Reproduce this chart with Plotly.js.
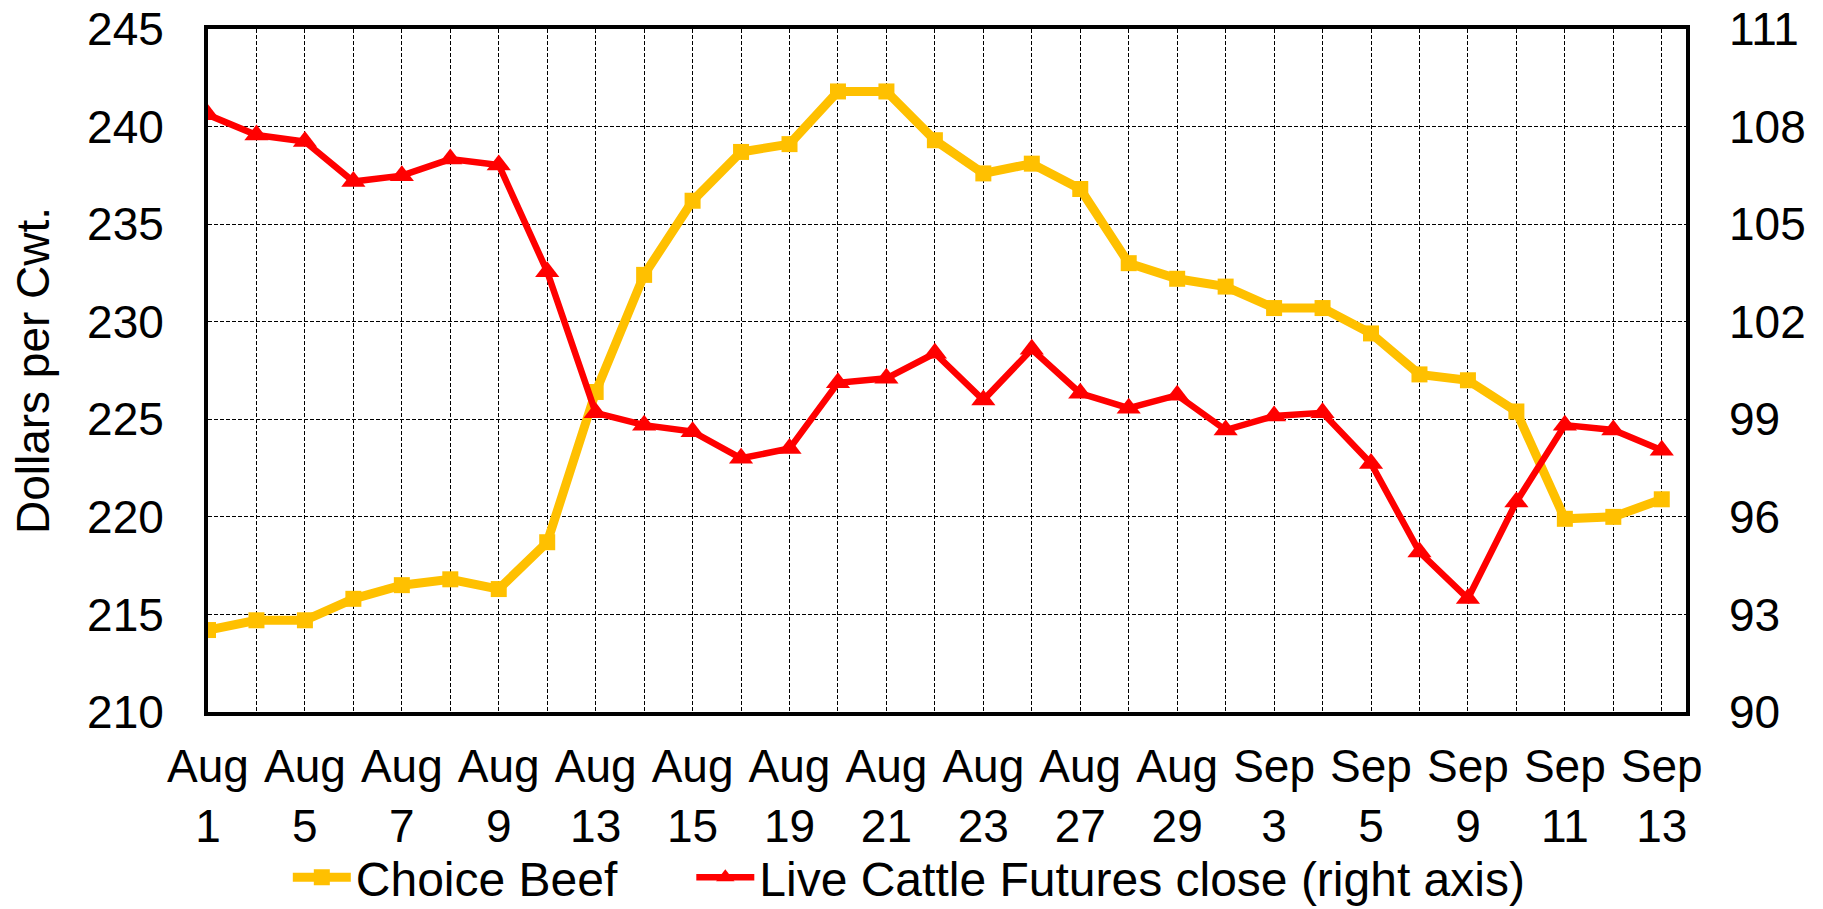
<!DOCTYPE html>
<html>
<head>
<meta charset="utf-8">
<script src="https://cdn.plot.ly/plotly-3.0.1.min.js"></script>
<style>html,body{margin:0;padding:0;background:#fff;}#chart{width:1823px;height:909px;}</style>
</head>
<body>
<div id="chart"></div>
<script>
// Trading days, Aug 1 – Sep 13
const dates = ["Aug 1","Aug 2","Aug 5","Aug 6","Aug 7","Aug 8","Aug 9","Aug 12","Aug 13","Aug 14","Aug 15","Aug 16",
  "Aug 19","Aug 20","Aug 21","Aug 22","Aug 23","Aug 26","Aug 27","Aug 28","Aug 29","Aug 30",
  "Sep 3","Sep 4","Sep 5","Sep 6","Sep 9","Sep 10","Sep 11","Sep 12","Sep 13"];
// Labelled ticks (every other trading day)
const tickLabels = ["Aug 1","Aug 5","Aug 7","Aug 9","Aug 13","Aug 15","Aug 19","Aug 21","Aug 23","Aug 27",
  "Aug 29","Sep 3","Sep 5","Sep 9","Sep 11","Sep 13"];
// Choice Beef cutout, $/cwt (left axis)
const choiceBeef = [214.2,214.7,214.7,215.8,216.5,216.8,216.3,218.7,226.4,232.4,236.2,238.7,
  239.1,241.8,241.8,239.3,237.6,238.1,236.8,233.0,232.2,231.8,
  230.7,230.7,229.4,227.3,227.0,225.4,219.9,220.0,220.9];
// Live Cattle Futures close, $/cwt (right axis)
const liveCattle = [108.36,107.74,107.54,106.31,106.49,107.0,106.82,103.54,99.2,98.82,98.62,97.8,
  98.1,100.12,100.26,101.03,99.59,101.15,99.8,99.34,99.74,98.67,
  99.1,99.2,97.64,94.92,93.49,96.46,98.82,98.67,98.05];
const leftTicks = [210,215,220,225,230,235,240,245];
const rightTicks = [90,93,96,99,102,105,108,111];

const ticktext = dates.map(d => tickLabels.includes(d) ? d.replace(" ", "<br>") : "");

const FONT = "Liberation Sans, Arial, sans-serif";

const traces = [
  {
    x: dates, y: choiceBeef, name: "Choice Beef", type: "scatter", mode: "lines+markers",
    line: {color: "#FFC000", width: 9},
    marker: {symbol: "square", size: 16, color: "#FFC000"},
    yaxis: "y", legend: "legend"
  },
  {
    x: dates, y: liveCattle, name: "Live Cattle Futures close (right axis)", type: "scatter", mode: "lines+markers",
    line: {color: "#FF0000", width: 6.5},
    marker: {symbol: "triangle-up", size: 21, color: "#FF0000"},
    yaxis: "y2", legend: "legend2"
  }
];

const legendStyle = (x) => ({orientation: "h", x: x, xanchor: "left", y: -0.298, yanchor: "bottom",
  itemwidth: 58, font: {family: FONT, size: 48, color: "#000"}, bgcolor: "rgba(0,0,0,0)"});

const layout = {
  width: 1823, height: 909,
  margin: {l: 208, r: 137, t: 29, b: 197, autoexpand: false},
  paper_bgcolor: "#fff", plot_bgcolor: "#fff",
  font: {family: FONT, size: 46, color: "#000"},
  showlegend: true,
  legend: legendStyle(0.054),
  legend2: legendStyle(0.327),
  xaxis: {
    type: "category", range: [0, 30.5], automargin: false, tickangle: 0,
    tickmode: "array", tickvals: dates, ticktext: ticktext,
    showgrid: true, gridcolor: "#000", gridwidth: 1, griddash: "4px,2px",
    showline: true, linecolor: "#000", linewidth: 4, mirror: true,
    ticks: "", tickfont: {family: FONT, size: 46, color: "#000"}, ticklabelstandoff: 11,
    zeroline: false, fixedrange: true
  },
  yaxis: {
    range: [210, 245], tickmode: "array", tickvals: leftTicks, automargin: false,
    showgrid: true, gridcolor: "#000", gridwidth: 1, griddash: "4px,2px",
    showline: true, linecolor: "#000", linewidth: 4, mirror: true,
    ticks: "", tickfont: {family: FONT, size: 46, color: "#000"}, ticklabelstandoff: 31,
    title: {text: "Dollars per Cwt.", font: {family: FONT, size: 46, color: "#000"}, standoff: 24},
    zeroline: false, fixedrange: true
  },
  yaxis2: {
    range: [90, 111], tickmode: "array", tickvals: rightTicks, automargin: false,
    overlaying: "y", side: "right", showgrid: false, showline: false,
    ticks: "", tickfont: {family: FONT, size: 46, color: "#000"}, ticklabelstandoff: 42,
    zeroline: false, fixedrange: true
  }
};

Plotly.newPlot("chart", traces, layout, {displayModeBar: false, staticPlot: true});
</script>
</body>
</html>
